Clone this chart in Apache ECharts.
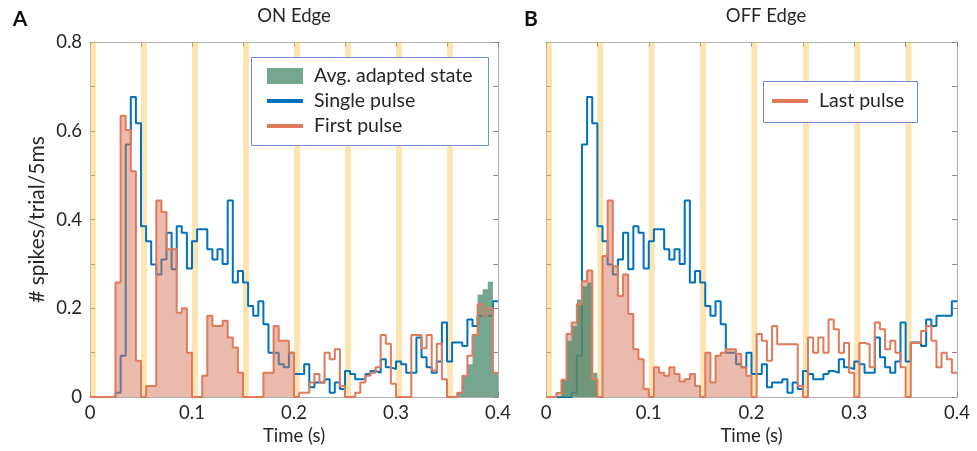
<!DOCTYPE html>
<html><head><meta charset="utf-8">
<script src="https://cdn.jsdelivr.net/npm/echarts@6/dist/echarts.min.js"></script>
<style>html,body{margin:0;padding:0;background:#fff}#c{width:977px;height:451px}</style>
</head><body><div id="c"></div>
<script>
// ---- data (5 ms bins, 0 - 0.4 s) ----
const binWidth = 0.005;
const pulseOnsets = [0, 0.05, 0.1, 0.15, 0.2, 0.25, 0.3, 0.35];
const pulseWidth = 0.0058;
const fillEnd = 0.2;
const xTickLabels = ['0', '0.1', '0.2', '0.3', '0.4'];
const yTickLabels = ['0', '0.2', '0.4', '0.6', '0.8'];

const singlePulse = [
  0, 0, 0, 0, 0, 0.01, 0.093, 0.569, 0.676, 0.617,
  0.385, 0.351, 0.299, 0.276, 0.31, 0.37, 0.288, 0.385, 0.37, 0.29,
  0.351, 0.378, 0.378, 0.333, 0.31, 0.333, 0.3, 0.443, 0.258, 0.284,
  0.258, 0.205, 0.183, 0.216, 0.164, 0.1, 0.1, 0.074, 0.067, 0.1,
  0.052, 0.052, 0.074, 0.022, 0.033, 0.033, 0.04, 0.01, 0.033, 0.018,
  0.059, 0.052, 0.04, 0.04, 0.052, 0.059, 0.055, 0.085, 0.067, 0.063,
  0.08, 0.074, 0.055, 0.055, 0.134, 0.09, 0.067, 0.055, 0.08, 0.168,
  0.08, 0.123, 0.123, 0.115, 0.175, 0.16, 0.183, 0.183, 0.183, 0.216
];
const firstPulse = [
  0, 0, 0, 0, 0, 0.258, 0.634, 0.602, 0.509, 0.082,
  0, 0.025, 0.025, 0.443, 0.417, 0.333, 0.333, 0.19, 0.2, 0.1,
  0, 0, 0.048, 0.183, 0.16, 0.16, 0.172, 0.134, 0.112, 0.055,
  0, 0, 0, 0, 0.055, 0.055, 0.16, 0.127, 0.127, 0.1,
  0, 0.01, 0.01, 0.033, 0.052, 0.033, 0.1, 0.085, 0.108, 0.025,
  0, 0, 0.01, 0.033, 0.048, 0.055, 0.067, 0.14, 0.12, 0.03,
  0, 0, 0, 0.14, 0.14, 0.11, 0.14, 0.06, 0.12, 0.04,
  0, 0, 0.01, 0.048, 0.093, 0.14, 0.209, 0.183, 0.2, 0.055
];
const adaptedOn = [
  0, 0, 0, 0, 0, 0, 0, 0, 0, 0,
  0, 0, 0, 0, 0, 0, 0, 0, 0, 0,
  0, 0, 0, 0, 0, 0, 0, 0, 0, 0,
  0, 0, 0, 0, 0, 0, 0, 0, 0, 0,
  0, 0, 0, 0, 0, 0, 0, 0, 0, 0,
  0, 0, 0, 0, 0, 0, 0, 0, 0, 0,
  0, 0, 0, 0, 0, 0, 0, 0, 0, 0,
  0, 0, 0.01, 0.048, 0.074, 0.138, 0.231, 0.243, 0.26, 0.055
];
const lastPulse = [
  0, 0, 0.009, 0.039, 0.142, 0.168, 0.209, 0.261, 0.285, 0.04,
  0, 0.318, 0.443, 0.295, 0.228, 0.276, 0.187, 0.108, 0.085, 0.018,
  0, 0.067, 0.055, 0.048, 0.067, 0.052, 0.035, 0.04, 0.052, 0.025,
  0, 0.1, 0.033, 0.093, 0.1, 0.108, 0.108, 0.097, 0.067, 0.048,
  0, 0.142, 0.127, 0.082, 0.16, 0.119, 0.119, 0.119, 0.119, 0.025,
  0, 0.134, 0.1, 0.134, 0.1, 0.175, 0.153, 0.1, 0.122, 0.055,
  0, 0.122, 0.119, 0.067, 0.168, 0.153, 0.108, 0.127, 0.1, 0.067,
  0, 0.122, 0.122, 0.149, 0.16, 0.127, 0.067, 0.1, 0.085, 0.055
];
const adaptedOff = [
  0, 0, 0, 0.04, 0.127, 0.16, 0.22, 0.25, 0.258, 0.055,
  0, 0, 0, 0, 0, 0, 0, 0, 0, 0,
  0, 0, 0, 0, 0, 0, 0, 0, 0, 0,
  0, 0, 0, 0, 0, 0, 0, 0, 0, 0,
  0, 0, 0, 0, 0, 0, 0, 0, 0, 0,
  0, 0, 0, 0, 0, 0, 0, 0, 0, 0,
  0, 0, 0, 0, 0, 0, 0, 0, 0, 0,
  0, 0, 0, 0, 0, 0, 0, 0, 0, 0
];

// ---- styling ----
const FONT = 'Lato';
const TXT = '#262626';
const BLUE = '#0072BD';
const ORANGE = '#E07A5A';
const ORANGE_FILL = 'rgba(214,120,90,0.5)';
const GREEN = 'rgba(72,136,106,0.75)';
const BAND = 'rgba(252,196,80,0.45)';
const AXIS = '#b0b0b0';
const TICK = '#8a8a8a';

function stairs(vals, upTo) {
  const pts = vals.map((v, k) => [+(k * binWidth).toFixed(4), v]);
  pts.push([+(vals.length * binWidth).toFixed(4), vals[vals.length - 1]]);
  return upTo == null ? pts : pts.filter(p => p[0] <= upTo + 1e-9);
}
function xLabel(v) {
  const r = v * 10;
  return Math.abs(r - Math.round(r)) < 1e-6 ? xTickLabels[Math.round(r)] : '';
}
function yLabel(v) {
  const r = v * 5;
  return Math.abs(r - Math.round(r)) < 1e-6 ? yTickLabels[Math.round(r)] : '';
}
function xAx(gi, pos, showLabel, name) {
  return {
    type: 'value', gridIndex: gi, position: pos, min: 0, max: 0.4, interval: 0.05,
    axisLine: { show: true, onZero: false, lineStyle: { color: AXIS, width: 1 } },
    axisTick: { show: true, inside: true, length: 5, lineStyle: { color: TICK } },
    axisLabel: { show: showLabel, margin: 6, color: TXT, fontSize: 18.5, fontFamily: FONT, formatter: xLabel },
    splitLine: { show: false },
    name: name || '', nameLocation: 'middle', nameGap: 19,
    nameTextStyle: { color: TXT, fontSize: 18.5, fontFamily: FONT }
  };
}
function yAx(gi, pos, showLabel, name) {
  return {
    type: 'value', gridIndex: gi, position: pos, min: 0, max: 0.8, interval: 0.1,
    axisLine: { show: true, onZero: false, lineStyle: { color: AXIS, width: 1 } },
    axisTick: { show: true, inside: true, length: 5, lineStyle: { color: TICK } },
    axisLabel: { show: showLabel, margin: 8, color: TXT, fontSize: 18.5, fontFamily: FONT, formatter: yLabel },
    splitLine: { show: false },
    name: name || '', nameLocation: 'middle', nameGap: 42,
    nameTextStyle: { color: TXT, fontSize: 21, fontFamily: FONT }
  };
}
function panelSeries(xi, yi, orangeName, orangeVals, greenVals) {
  return [
    { name: 'Single pulse', type: 'line', xAxisIndex: xi, yAxisIndex: yi, step: 'end', symbol: 'none',
      color: BLUE, lineStyle: { color: BLUE, width: 2 }, data: stairs(singlePulse), z: 2, silent: true },
    { name: orangeName + ' fill', type: 'line', xAxisIndex: xi, yAxisIndex: yi, step: 'end', symbol: 'none',
      lineStyle: { width: 0, opacity: 0 }, areaStyle: { color: ORANGE_FILL, opacity: 1 },
      data: stairs(orangeVals, fillEnd), z: 3, silent: true },
    { name: 'Avg. adapted state', type: 'line', xAxisIndex: xi, yAxisIndex: yi, step: 'end', symbol: 'none',
      color: GREEN, lineStyle: { width: 0, opacity: 0 }, areaStyle: { color: GREEN, opacity: 1 },
      data: stairs(greenVals), z: 4, silent: true },
    { name: orangeName, type: 'line', xAxisIndex: xi, yAxisIndex: yi, step: 'end', symbol: 'none',
      color: ORANGE, lineStyle: { color: ORANGE, width: 2 }, data: stairs(orangeVals), z: 5, silent: true },
    { name: 'bands', type: 'line', xAxisIndex: xi, yAxisIndex: yi, symbol: 'none', data: [], z: 10, silent: true,
      markArea: { silent: true, itemStyle: { color: BAND },
        data: pulseOnsets.map(t => [{ xAxis: t, yAxis: 0 }, { xAxis: t + pulseWidth, yAxis: 0.8 }]) } }
  ];
}
function leg(name, left, top, h) {
  return { show: true, selectedMode: false, data: [name], left: left, top: top, orient: 'horizontal',
    icon: 'rect', itemWidth: 36, itemHeight: h, padding: 0, z: 60,
    textStyle: { color: TXT, fontSize: 19.5, fontFamily: FONT, padding: [0, 0, 0, 6] } };
}

const chart = echarts.init(document.getElementById('c'), null, { renderer: 'canvas' });
chart.setOption({
  animation: false,
  backgroundColor: '#fff',
  textStyle: { fontFamily: FONT },
  grid: [
    { left: 90, top: 42, width: 408, height: 356 },
    { left: 546, top: 42, width: 411, height: 356 }
  ],
  xAxis: [xAx(0, 'bottom', true, 'Time (s)'), xAx(0, 'top', false), xAx(1, 'bottom', true, 'Time (s)'), xAx(1, 'top', false)],
  yAxis: [yAx(0, 'left', true, '# spikes/trial/5ms'), yAx(0, 'right', false), yAx(1, 'left', false), yAx(1, 'right', false)],
  legend: [
    leg('Avg. adapted state', 267, 66, 16),
    leg('Single pulse', 267, 91, 4),
    leg('First pulse', 267, 116, 4),
    leg('Last pulse', 772, 91, 4)
  ],
  series: [].concat(
    panelSeries(0, 0, 'First pulse', firstPulse, adaptedOn),
    panelSeries(2, 2, 'Last pulse', lastPulse, adaptedOff)
  ),
  graphic: [
    { type: 'rect', z: 55, shape: { x: 251.5, y: 57.5, width: 237, height: 88 }, style: { fill: '#fff', stroke: '#6b8fd0', lineWidth: 1 } },
    { type: 'rect', z: 55, shape: { x: 763.5, y: 81.5, width: 154, height: 41 }, style: { fill: '#fff', stroke: '#6b8fd0', lineWidth: 1 } },
    { type: 'text', x: 294, y: 16, style: { text: 'ON Edge', fill: TXT, font: '18.5px ' + FONT, textAlign: 'center', textVerticalAlign: 'middle' } },
    { type: 'text', x: 766, y: 16, style: { text: 'OFF Edge', fill: TXT, font: '18.5px ' + FONT, textAlign: 'center', textVerticalAlign: 'middle' } },
    { type: 'text', x: 20, y: 19, style: { text: 'A', fill: '#111', font: 'bold 21px ' + FONT, textAlign: 'center', textVerticalAlign: 'middle' } },
    { type: 'text', x: 531, y: 19, style: { text: 'B', fill: '#111', font: 'bold 21px ' + FONT, textAlign: 'center', textVerticalAlign: 'middle' } }
  ]
});
</script></body></html>
